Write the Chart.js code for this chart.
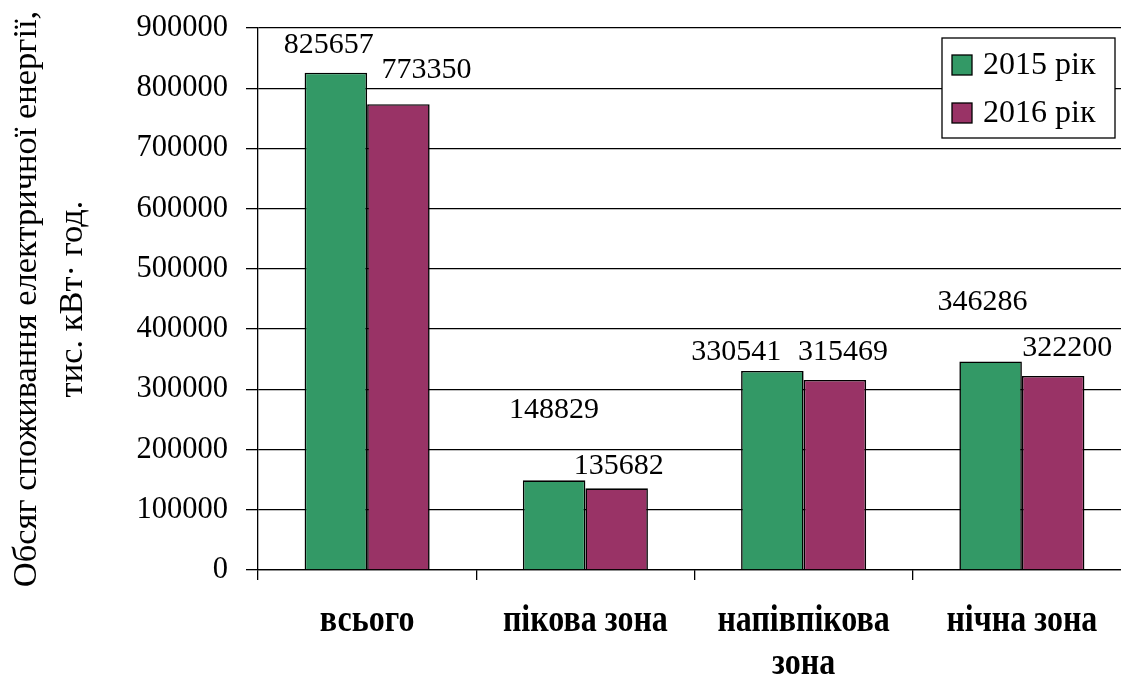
<!DOCTYPE html>
<html>
<head>
<meta charset="utf-8">
<title>Обсяг споживання електричної енергії</title>
<script src="https://cdn.jsdelivr.net/npm/chart.js@4"></script>
<style>
  html, body { margin: 0; padding: 0; background: #fff; overflow: hidden; }
  canvas { display: block; }
</style>
</head>
<body>
<canvas id="mybar" width="1140" height="677"></canvas>
<script>
// категорії та значення, тис. кВт·год
var categories = ['всього', 'пікова зона', ['напівпікова', 'зона'], 'нічна зона']
var seriesNames = ['2015 рік', '2016 рік']
var values2015 = [825657, 148829, 330541, 346286]
var values2016 = [773350, 135682, 315469, 322200]
var yTicks = [0, 100000, 200000, 300000, 400000, 500000, 600000, 700000, 800000, 900000]

var seriesColors = ['#339966', '#993366']

// зсув підписів значень від верху стовпчика, px
var labelShift = [
    [[-7, -28], [0, -70], [-36, -19], [-8, -59]],
    [[28, -34], [2, -22], [8, -28], [14, -28]]
]

var serif = '"Liberation Serif", "Times New Roman", serif'

var barLabels = {
    id: 'barLabels',
    afterDatasetsDraw(chart) {
        var ctx = chart.ctx
        ctx.save()
        ctx.font = '30px ' + serif
        ctx.fillStyle = '#000'
        ctx.textAlign = 'center'
        ctx.textBaseline = 'middle'
        chart.data.datasets.forEach((ds, i) => {
            chart.getDatasetMeta(i).data.forEach((bar, j) => {
                var s = labelShift[i][j]
                ctx.fillText(String(ds.data[j]), bar.x + s[0], bar.y + s[1])
            })
        })
        ctx.restore()
    }
}

// підписи категорій під віссю, трохи витягнуті по вертикалі
var categoryLabels = {
    id: 'categoryLabels',
    afterDraw(chart) {
        var ctx = chart.ctx
        var xs = chart.scales.x
        ctx.save()
        ctx.font = 'bold 32px ' + serif
        ctx.fillStyle = '#000'
        ctx.textAlign = 'center'
        ctx.textBaseline = 'alphabetic'
        chart.data.labels.forEach((lbl, i) => {
            var lines = Array.isArray(lbl) ? lbl : [lbl]
            var x = xs.getPixelForTick(i)
            lines.forEach((line, k) => {
                ctx.save()
                ctx.translate(x, xs.top + 61 + k * 43)
                ctx.scale(1, 1.2)
                ctx.fillText(line, 0, 0)
                ctx.restore()
            })
        })
        ctx.restore()
    }
}

// легенда в рамці у правому верхньому куті
var boxLegend = {
    id: 'boxLegend',
    afterDraw(chart) {
        var ctx = chart.ctx
        var x = 942, y = 38, w = 173, h = 100
        ctx.save()
        ctx.fillStyle = '#fff'
        ctx.fillRect(x, y, w, h)
        ctx.strokeStyle = '#000'
        ctx.lineWidth = 1.3
        ctx.strokeRect(x, y, w, h)
        ctx.font = '32px ' + serif
        ctx.textBaseline = 'middle'
        ctx.textAlign = 'left'
        chart.data.datasets.forEach((ds, i) => {
            var cy = y + 27 + i * 48
            ctx.fillStyle = ds.backgroundColor
            ctx.fillRect(x + 10, cy - 10, 20, 20)
            ctx.strokeRect(x + 10, cy - 10, 20, 20)
            ctx.fillStyle = '#000'
            ctx.fillText(ds.label, x + 41, cy + 1)
        })
        ctx.restore()
    }
}

var bar_data = {
    labels: categories,
    datasets: [{
        label: seriesNames[0],
        data: values2015,
        backgroundColor: seriesColors[0],
        borderColor: '#000',
        borderWidth: 1.6
    },
    {
        label: seriesNames[1],
        data: values2016,
        backgroundColor: seriesColors[1],
        borderColor: '#000',
        borderWidth: 1.6
    }]
}

var mybar = new Chart(document.getElementById('mybar'), {
    type: 'bar',
    data: bar_data,
    plugins: [barLabels, categoryLabels, boxLegend],
    options: {
        responsive: false,
        animation: false,
        categoryPercentage: 0.573,
        barPercentage: 1.0,
        layout: { padding: { top: 28, right: 9, left: 0, bottom: 0 } },
        plugins: {
            legend: { display: false },
            tooltip: { enabled: false }
        },
        scales: {
            x: {
                grid: { drawOnChartArea: false, color: '#000', lineWidth: 1.3, tickLength: 10 },
                border: { color: '#000', width: 1.3 },
                ticks: { display: false },
                afterFit: s => { s.height = 107 }
            },
            y: {
                min: 0,
                max: 900000,
                afterBuildTicks: s => { s.ticks = yTicks.map(v => ({ value: v })) },
                grid: { color: '#000', lineWidth: 1.3, tickLength: 12 },
                border: { color: '#000', width: 1.3 },
                ticks: {
                    color: '#000',
                    font: { family: serif, size: 30.5, lineHeight: 0.5 },
                    padding: 18,
                    callback: v => String(v)
                },
                title: {
                    display: true,
                    text: ['Обсяг споживання електричної енергії,', 'тис. кВт· год.'],
                    color: '#000',
                    font: { family: serif, size: 34.5, lineHeight: 1.33 },
                    padding: { top: 4, bottom: 0 }
                },
                afterFit: s => { s.width = 258 }
            }
        }
    }
})
</script>
</body>
</html>
